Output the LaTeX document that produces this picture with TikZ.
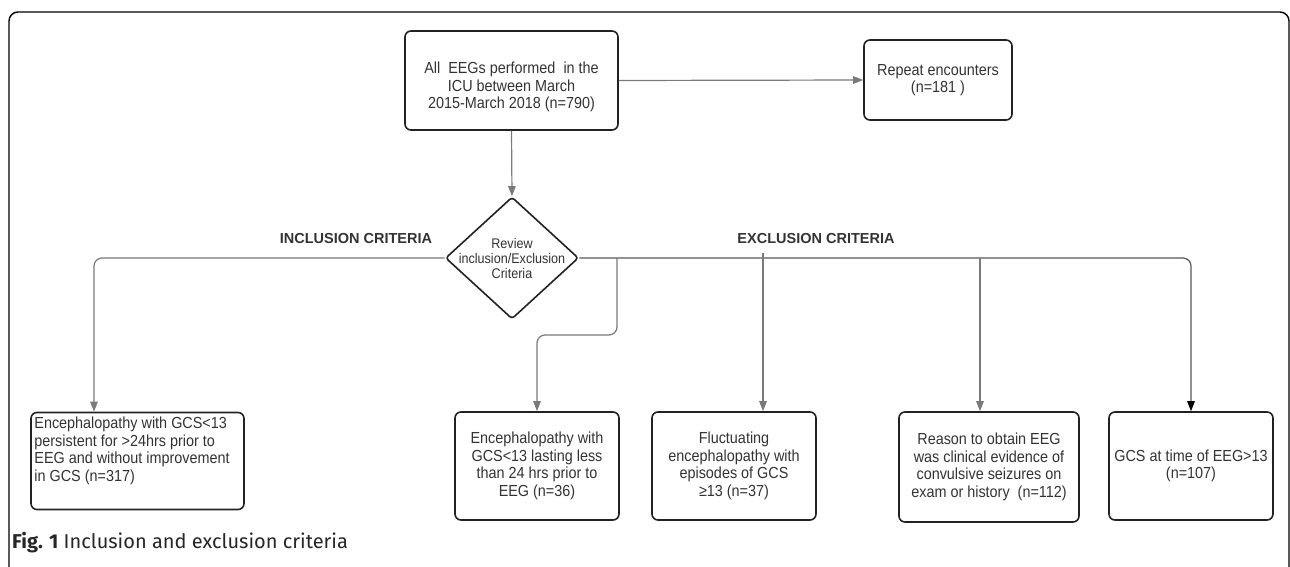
\documentclass[tikz,border=0pt]{standalone}
\usepackage{fontspec}
\setmainfont{Liberation Sans}[FakeStretch=0.9]
\newfontfamily\hdrfont{Liberation Sans}
\newfontfamily\capfont{Fira Sans}
\usetikzlibrary{shapes.geometric,arrows.meta}
\definecolor{txt}{HTML}{333333}
\definecolor{conncol}{HTML}{7A7A7A}
\definecolor{bord}{HTML}{222222}
\begin{document}
\begin{tikzpicture}[x=1pt,y=-1pt,
  box/.style={draw=bord, line width=1.6pt, rounded corners=6pt, inner sep=0pt},
  btext/.style={text=txt, font=\fontsize{16}{17.6}\selectfont, align=center},
  conn/.style={draw=conncol, line width=1.2pt, rounded corners=8pt,
    -{Triangle[length=10pt,width=7.5pt]}},
  hdr/.style={text=txt, font=\hdrfont\fontsize{14.5}{16}\selectfont\bfseries}
]
\useasboundingbox (0,0) rectangle (1290,567);
\fill[white] (0,0) rectangle (1290,567);
% frame
\begin{scope}
\clip (0,0) rectangle (1290,567);
\draw[line width=1.4pt, rounded corners=9pt] (9,590) -- (9,12) -- (1289,12) -- (1289,590);
\end{scope}

% top boxes
\node[box, minimum width=213pt, minimum height=99pt,
  label={[btext, yshift=-6.5pt]center:{All\ \ EEGs performed\ \ in the\\ICU between March\\2015-March 2018 (n=790)}}] (top) at (511.5,80.5) {};
\node[box, btext, minimum width=148pt, minimum height=80pt] (rep) at (938,80)
  {Repeat encounters\\(n=181 )};

% diamond
\node[draw=bord, line width=1.6pt, diamond, minimum width=133pt, minimum height=122pt,
  inner sep=0pt, rounded corners=3pt,
  label={[text=txt, font=\fontsize{14}{15}\selectfont, align=center]center:Review\\inclusion/Exclusion\\Criteria}] (dia) at (512,258) {};

\node[hdr] (inc) at (356,239) {INCLUSION CRITERIA};
\node[hdr] (exc) at (816,239) {EXCLUSION CRITERIA};

% bottom boxes
\node[box, minimum width=213pt, minimum height=97pt,
  label={[btext, align=left, anchor=north west, inner sep=0pt, xshift=4pt, yshift=-5pt]north west:{Encephalopathy with GCS<13\\persistent for >24hrs prior to\\EEG and without improvement\\in GCS (n=317)}}] (b1) at (137.5,461) {};
\node[box, btext, minimum width=164pt, minimum height=108pt] (b2) at (537,466)
  {Encephalopathy with\\GCS<13 lasting less\\than 24 hrs prior to\\EEG (n=36)};
\node[box, btext, minimum width=164pt, minimum height=108pt] (b3) at (734,466)
  {Fluctuating\\encephalopathy with\\episodes of GCS\\≥13 (n=37)};
\node[box, btext, minimum width=180pt, minimum height=110pt] (b4) at (989,467)
  {Reason to obtain EEG\\was clinical evidence of\\convulsive seizures on\\exam or history\ \ (n=112)};
\node[box, btext, minimum width=164pt, minimum height=108pt] (b5) at (1191,466)
  {GCS at time of EEG>13\\(n=107)};

% junctions on the exclusion line
\coordinate (j1) at (617,258);
\coordinate (j2) at (763,253);
\coordinate (j3) at (980,258);
\coordinate (k1) at (617,335);

% connectors
\draw[conn] (top.south) -- (dia.north);
\draw[conn] (top.east) -- (rep.west);
\draw[conn] (dia.west) -| ([xshift=-43.5pt]b1.north);
\draw[draw=black!65, line width=1.2pt, rounded corners=8pt,
  -{Triangle[length=10pt,width=7.5pt,color=black]}] (dia.east) -| (b5.north);
\draw[conn] (j1) -- (k1) -- (k1 -| b2.north) -- (b2.north);
\draw[conn] (j2) -- (j2 |- b3.north);
\draw[conn] (j3) -- (j3 |- b4.north);

% caption
\node[anchor=west, inner sep=0pt, text=black!85, font=\capfont\fontsize{20}{22}\selectfont] (cap) at (12,543)
  {\textbf{Fig. 1} Inclusion and exclusion criteria};
\end{tikzpicture}
\end{document}
